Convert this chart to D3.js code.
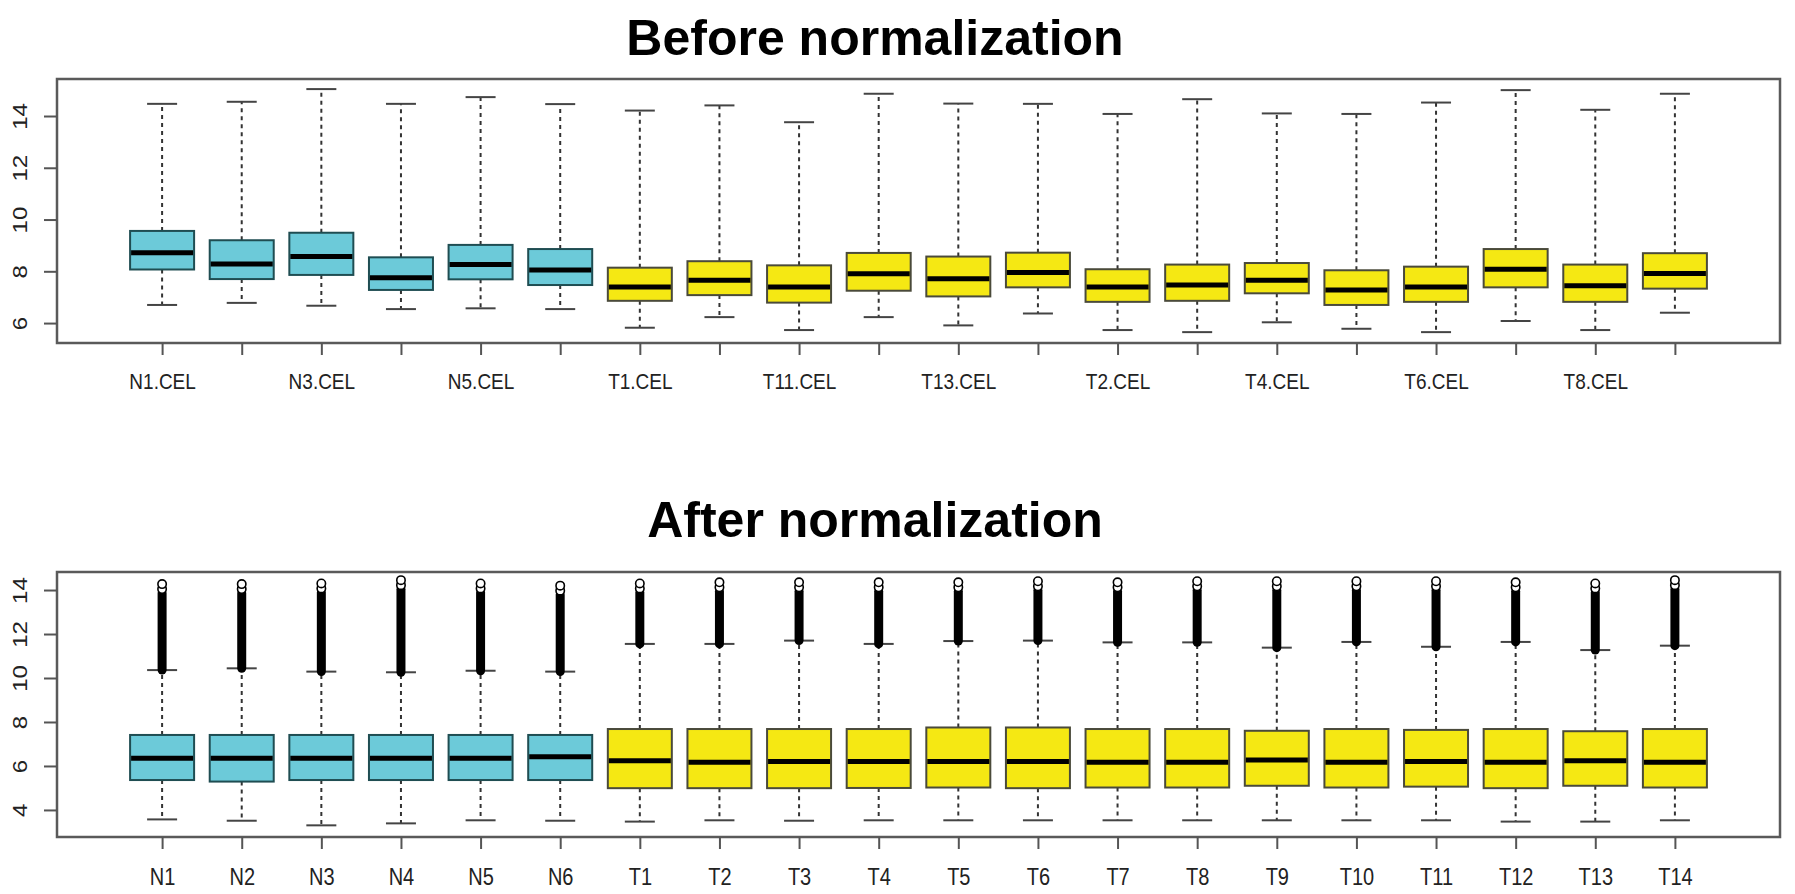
<!DOCTYPE html>
<html>
<head>
<meta charset="utf-8">
<script src="https://cdn.jsdelivr.net/npm/d3@7"></script>
<style>
  body { margin: 0; background: #fff; }
  text { font-family: "Liberation Sans", Arial, Helvetica, sans-serif; }
</style>
</head>
<body>
<div class="chart"></div>
<script>
// ---- data: before normalization (raw .CEL intensities) ----
var beforeNames = ["N1.CEL","N2.CEL","N3.CEL","N4.CEL","N5.CEL","N6.CEL","T1.CEL","T10.CEL","T11.CEL","T12.CEL",
                   "T13.CEL","T14.CEL","T2.CEL","T3.CEL","T4.CEL","T5.CEL","T6.CEL","T7.CEL","T8.CEL","T9.CEL"];
var beforeMin = [6.70,6.78,6.67,6.54,6.57,6.54,5.82,6.23,5.73,6.23,5.91,6.37,5.73,5.65,6.03,5.78,5.65,6.08,5.73,6.40];
var beforeQ1  = [8.07,7.70,7.86,7.28,7.69,7.47,6.86,7.08,6.79,7.25,7.03,7.38,6.82,6.86,7.15,6.70,6.82,7.38,6.82,7.33];
var beforeMed = [8.72,8.28,8.57,7.75,8.26,8.05,7.39,7.65,7.39,7.91,7.71,7.95,7.39,7.47,7.65,7.28,7.39,8.08,7.44,7.92];
var beforeQ3  = [9.56,9.20,9.49,8.54,9.02,8.86,8.14,8.39,8.23,8.71,8.57,8.72,8.08,8.26,8.32,8.04,8.18,8.86,8.26,8.70];
var beforeMax = [14.47,14.55,15.04,14.47,14.73,14.46,14.21,14.41,13.76,14.86,14.48,14.47,14.08,14.65,14.10,14.08,14.52,15.00,14.24,14.86];

// ---- data: after normalization ----
var afterNames = ["N1","N2","N3","N4","N5","N6","T1","T2","T3","T4","T5","T6","T7","T8","T9","T10","T11","T12","T13","T14"];
var afterMin = [3.57,3.51,3.30,3.39,3.53,3.51,3.47,3.53,3.51,3.53,3.53,3.53,3.53,3.53,3.53,3.53,3.53,3.47,3.47,3.53];
var afterQ1  = [5.36,5.29,5.36,5.36,5.36,5.36,4.99,4.99,4.99,5.00,5.02,4.99,5.02,5.02,5.10,5.02,5.06,4.99,5.10,5.02];
var afterMed = [6.35,6.35,6.35,6.35,6.35,6.42,6.24,6.17,6.20,6.20,6.20,6.20,6.17,6.17,6.27,6.17,6.20,6.17,6.24,6.17];
var afterQ3  = [7.41,7.41,7.41,7.41,7.41,7.41,7.68,7.68,7.68,7.68,7.75,7.75,7.68,7.68,7.60,7.68,7.64,7.68,7.58,7.68];
var afterMax = [10.36,10.44,10.29,10.26,10.33,10.29,11.55,11.55,11.70,11.55,11.68,11.70,11.62,11.62,11.38,11.64,11.42,11.64,11.27,11.47];
var afterOutTop = [14.27,14.27,14.30,14.45,14.30,14.20,14.30,14.35,14.35,14.35,14.35,14.40,14.35,14.40,14.40,14.40,14.40,14.35,14.30,14.45];

var yTicks = [6, 8, 10, 12, 14];
var afterTicks = [4, 6, 8, 10, 12, 14];

var width = 1795, height = 894;
var svg = d3.select(".chart").append("svg")
  .attr("width", width).attr("height", height)
  .style("background", "#fff");

var frameL = 57, frameR = 1780;
var x = d3.scaleLinear().domain([-1.32, 20.32]).range([frameL, frameR]);
var boxW = 64, capW = 30;
var stretch = 1.2; // the source figure is slightly stretched vertically

function colorFor(name) {
  return name.charAt(0) === "N" ? "#6ccad9" : "#f5e813";
}
function strokeFor(name) {
  return name.charAt(0) === "N" ? "#1f4d52" : "#4a4a3a";
}

function panel(opts) {
  var y = d3.scaleLinear().domain(opts.domain).range([opts.bottom, opts.top]);
  var g = svg.append("g");
  var n = opts.names.length;
  var idx = d3.range(n);

  // title
  svg.append("text")
    .attr("x", 875).attr("y", opts.titleY)
    .attr("text-anchor", "middle")
    .style("font-size", "50px").style("font-weight", "bold")
    .text(opts.title);

  // whiskers (dashed)
  var w = g.append("g");
  w.selectAll(".wu").data(idx).enter().append("line")
    .attr("x1", i => x(i)).attr("x2", i => x(i))
    .attr("y1", i => y(opts.q3[i])).attr("y2", i => y(opts.max[i]))
    .attr("stroke", "#333").attr("stroke-width", 2).attr("stroke-dasharray", "4,4");
  w.selectAll(".wl").data(idx).enter().append("line")
    .attr("x1", i => x(i)).attr("x2", i => x(i))
    .attr("y1", i => y(opts.q1[i])).attr("y2", i => y(opts.min[i]))
    .attr("stroke", "#333").attr("stroke-width", 2).attr("stroke-dasharray", "4,4");
  // caps
  w.selectAll(".cu").data(idx).enter().append("line")
    .attr("x1", i => x(i) - capW / 2).attr("x2", i => x(i) + capW / 2)
    .attr("y1", i => y(opts.max[i])).attr("y2", i => y(opts.max[i]))
    .attr("stroke", "#444").attr("stroke-width", 2);
  w.selectAll(".cl").data(idx).enter().append("line")
    .attr("x1", i => x(i) - capW / 2).attr("x2", i => x(i) + capW / 2)
    .attr("y1", i => y(opts.min[i])).attr("y2", i => y(opts.min[i]))
    .attr("stroke", "#444").attr("stroke-width", 2);

  // outliers: dense stack of points drawn as a solid column, open circles at top
  if (opts.outTop) {
    g.selectAll(".ol").data(idx).enter().append("line")
      .attr("x1", i => x(i)).attr("x2", i => x(i))
      .attr("y1", i => y(opts.max[i])).attr("y2", i => y(opts.outTop[i]) + 9)
      .attr("stroke", "#000").attr("stroke-width", 9).attr("stroke-linecap", "round");
    g.selectAll(".oc").data(idx).enter().append("circle")
      .attr("cx", i => x(i)).attr("cy", i => y(opts.outTop[i]) + 5)
      .attr("r", 4.2).attr("fill", "#fff").attr("stroke", "#000").attr("stroke-width", 1.6);
    g.selectAll(".oc2").data(idx).enter().append("circle")
      .attr("cx", i => x(i)).attr("cy", i => y(opts.outTop[i]))
      .attr("r", 4.2).attr("fill", "#fff").attr("stroke", "#000").attr("stroke-width", 1.6);
  }

  // boxes
  g.selectAll(".box").data(idx).enter().append("rect")
    .attr("x", i => x(i) - boxW / 2).attr("width", boxW)
    .attr("y", i => y(opts.q3[i])).attr("height", i => y(opts.q1[i]) - y(opts.q3[i]))
    .attr("fill", i => colorFor(opts.names[i]))
    .attr("stroke", i => strokeFor(opts.names[i])).attr("stroke-width", 2);
  g.selectAll(".med").data(idx).enter().append("line")
    .attr("x1", i => x(i) - boxW / 2 + 1).attr("x2", i => x(i) + boxW / 2 - 1)
    .attr("y1", i => y(opts.med[i])).attr("y2", i => y(opts.med[i]))
    .attr("stroke", "#000").attr("stroke-width", 5);

  // frame
  svg.append("rect")
    .attr("x", frameL).attr("y", opts.top)
    .attr("width", frameR - frameL).attr("height", opts.bottom - opts.top)
    .attr("fill", "none").attr("stroke", "#5a5a5a").attr("stroke-width", 2.5);

  // y axis
  var ya = svg.append("g").attr("transform", "translate(" + frameL + ",0)")
    .call(d3.axisLeft(y).tickValues(opts.ticks).tickSize(13).tickSizeOuter(0));
  ya.select(".domain").remove();
  ya.selectAll(".tick line").attr("stroke", "#555").attr("stroke-width", 2);
  ya.selectAll(".tick text")
    .attr("transform", "rotate(-90) scale(" + stretch + ",1)")
    .attr("x", 0).attr("y", -30).attr("dy", 0)
    .attr("text-anchor", "middle")
    .style("font-size", "20px").attr("fill", "#222");

  // x axis
  var xa = svg.append("g").attr("transform", "translate(0," + opts.bottom + ")")
    .call(d3.axisBottom(x).tickValues(idx).tickSize(12).tickSizeOuter(0)
      .tickFormat(i => opts.every2 && i % 2 ? "" : opts.names[i]));
  xa.select(".domain").remove();
  xa.selectAll(".tick line").attr("stroke", "#555").attr("stroke-width", 2);
  xa.selectAll(".tick text")
    .attr("transform", "scale(1," + stretch + ")")
    .attr("y", opts.labelY / stretch).attr("dy", 0)
    .style("font-size", opts.labelSize).attr("fill", "#222");
}

panel({
  title: "Before normalization", titleY: 55,
  names: beforeNames, min: beforeMin, q1: beforeQ1, med: beforeMed, q3: beforeQ3, max: beforeMax,
  domain: [5.23, 15.43], top: 79, bottom: 343, ticks: yTicks,
  every2: true, labelY: 46, labelSize: "19px"
});

panel({
  title: "After normalization", titleY: 537,
  names: afterNames, min: afterMin, q1: afterQ1, med: afterMed, q3: afterQ3, max: afterMax,
  outTop: afterOutTop,
  domain: [2.77, 14.82], top: 572, bottom: 837, ticks: afterTicks,
  every2: false, labelY: 48, labelSize: "20px"
});
</script>
</body>
</html>
